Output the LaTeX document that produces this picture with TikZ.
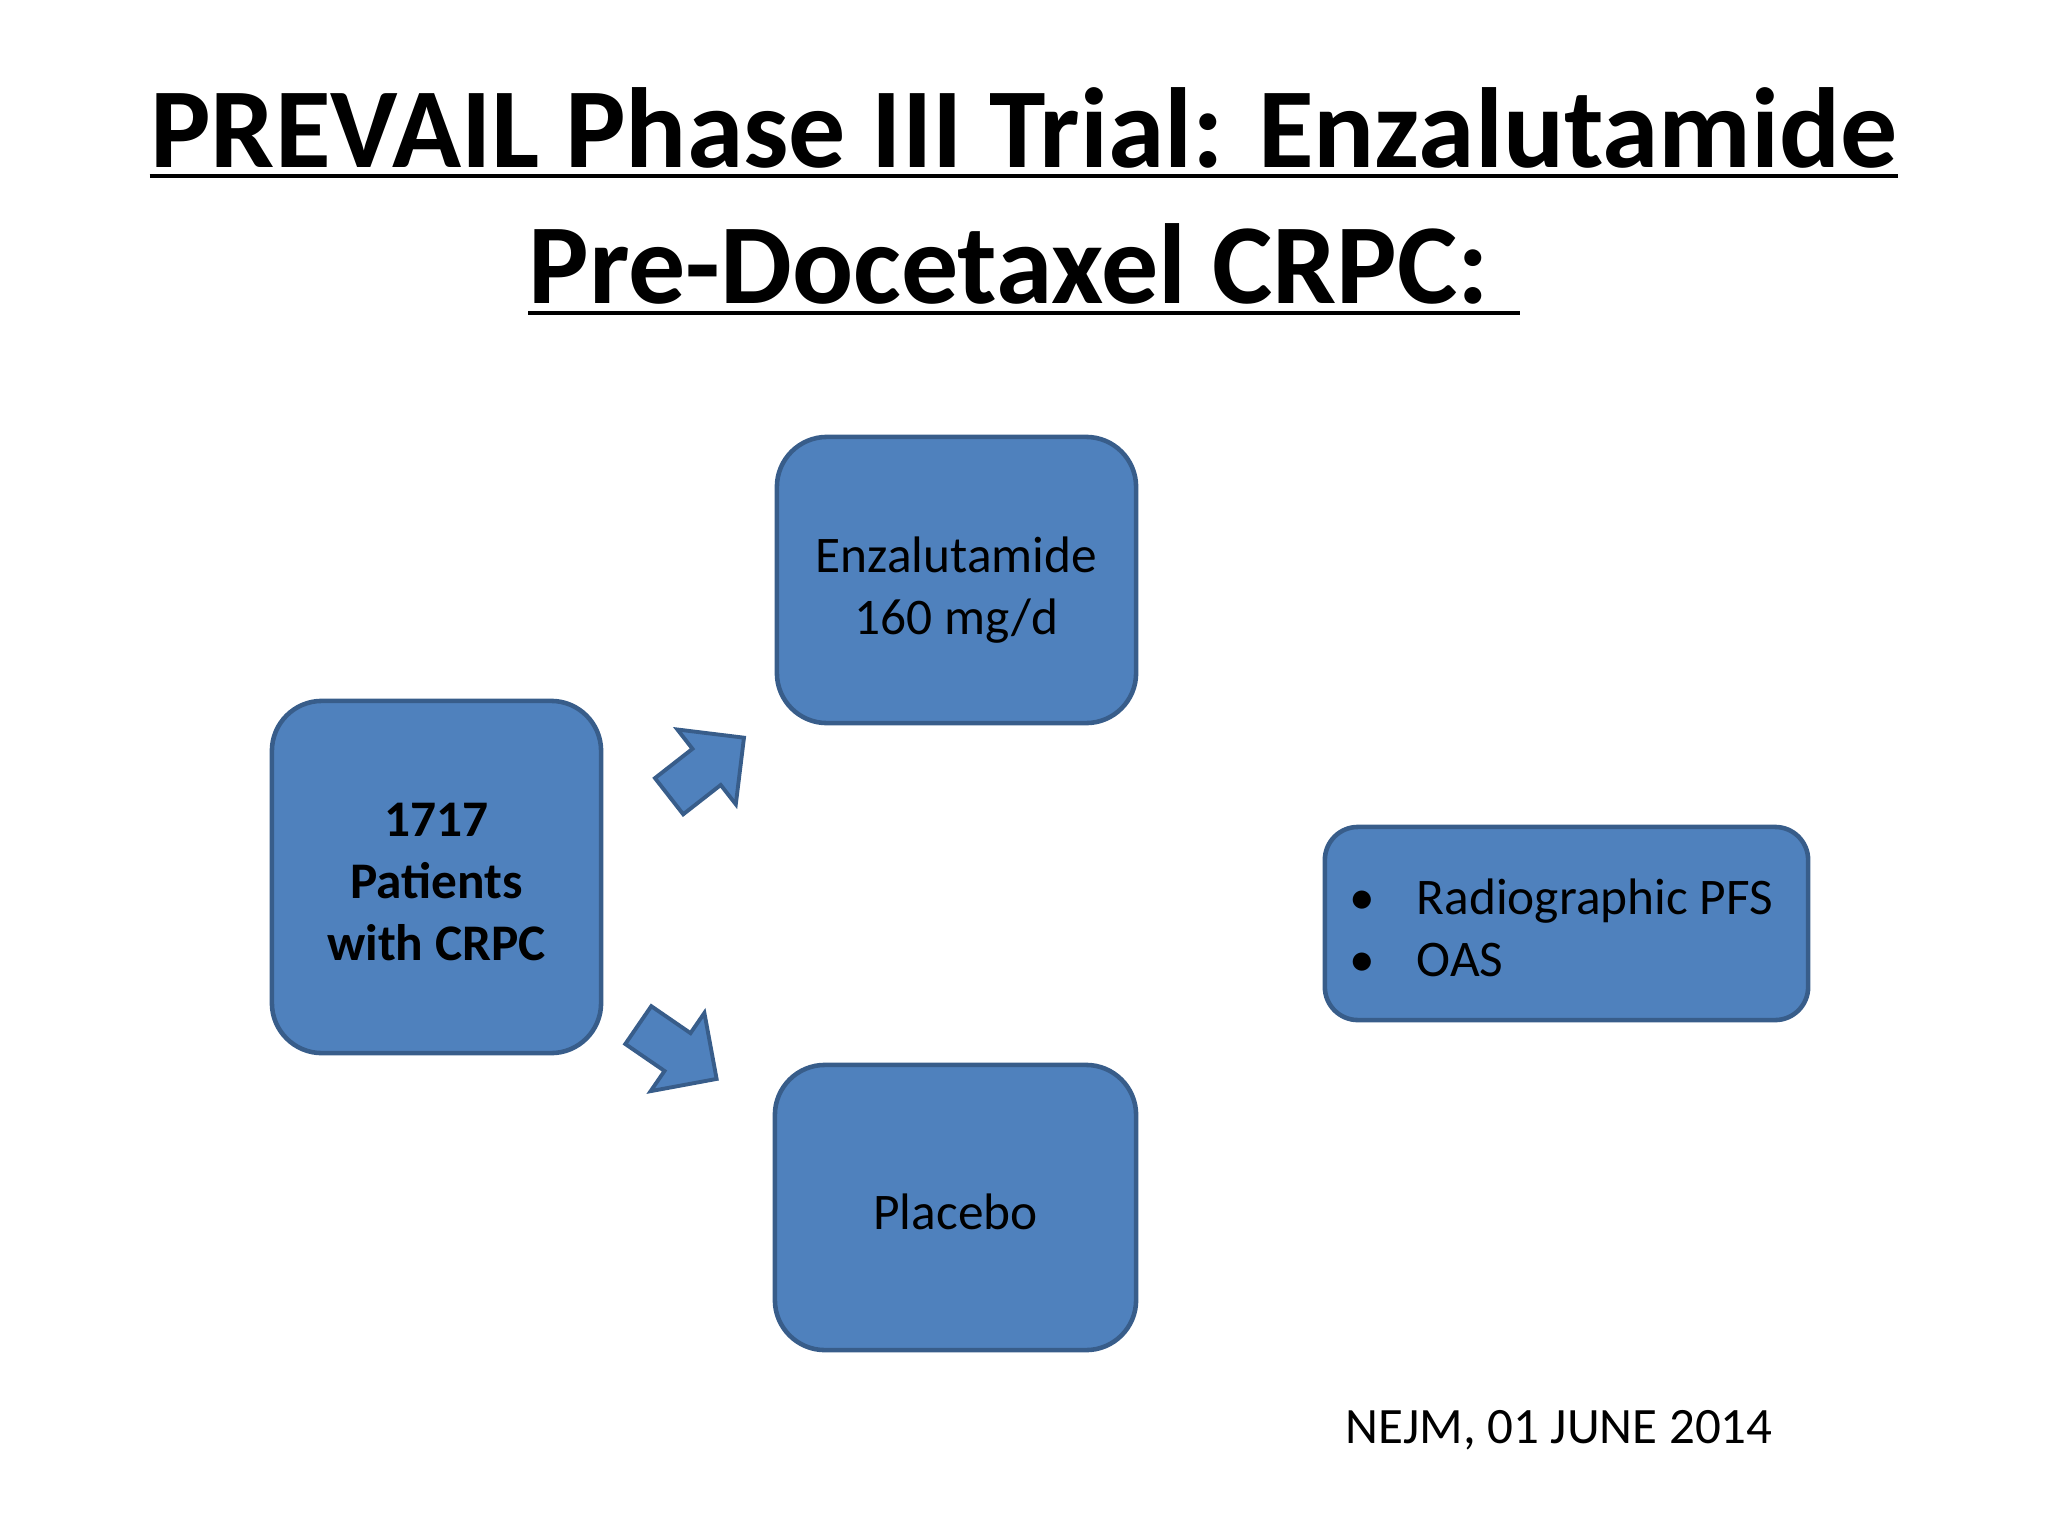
\documentclass[tikz,border=0pt]{standalone}
\usepackage{fontspec}
\setmainfont{Carlito}
\usetikzlibrary{shapes.arrows}
\definecolor{boxblue}{HTML}{4F81BD}
\definecolor{boxline}{HTML}{385D8A}
\tikzset{
  box/.style={draw=boxline, fill=boxblue, line width=1.3pt, rounded corners=#1, inner sep=0pt},
  box/.default=0.5cm,
  boxtext/.style={align=center, inner sep=0pt, font=\fontsize{14.6}{17.5}\selectfont},
  boldtext/.style={boxtext, font=\fontsize{14.6}{17.5}\selectfont\bfseries},
  bigarrow/.style={single arrow, draw=boxline, fill=boxblue, line width=1.1pt,
    minimum height=0.95cm, single arrow head extend=0.245cm,
    inner xsep=0pt, inner ysep=0.21cm},
  titletext/.style={anchor=base, inner sep=0pt, font=\fontsize{32.4}{40}\selectfont\bfseries}
}
\begin{document}
\begin{tikzpicture}[x=0.01cm, y=-0.01cm]
    \useasboundingbox (0,0) rectangle (2048,1536);

      \node[titletext] (t1) at (1024,167) {PREVAIL Phase III Trial: Enzalutamide};
      \node[titletext] (t2) at (1024,303) {Pre-Docetaxel CRPC:\kern8.5pt};
      \draw[line width=1.4pt] ([yshift=-0.09cm]t1.base west) -- ([yshift=-0.09cm]t1.base east);
      \draw[line width=1.4pt] ([yshift=-0.1cm]t2.base west) -- ([yshift=-0.1cm]t2.base east);

      \node[box, minimum width=3.29cm, minimum height=3.52cm] (pts) at (436.5,877) {};
      \node[boldtext] (ptstxt) at ([yshift=-0.05cm]pts.center) {1717\\Patients\\with CRPC};

      \node[box, minimum width=3.59cm, minimum height=2.86cm] (enz) at (956.5,580) {};
      \node[boxtext] (enztxt) at ([yshift=-0.1cm]enz.center) {Enzalutamide\\160 mg/d};

      \node[box, minimum width=3.61cm, minimum height=2.85cm] (pla) at (955.5,1207.5) {};
      \node[boxtext] (platxt) at ([yshift=-0.04cm]pla.center) {Placebo};

      \node[box=0.33cm, minimum width=4.83cm, minimum height=1.93cm] (out) at (1566.5,923.5) {};
      \node[boxtext, align=left, anchor=west] (outtxt) at (1349,928)
        {\makebox[0.67cm][l]{\textbullet}Radiographic PFS\\\makebox[0.67cm][l]{\textbullet}OAS};

      \node[bigarrow, rotate=38] (up) at (697.5,774) {};
      \node[bigarrow, rotate=-34.5] (down) at (668,1045.5) {};

      \node[anchor=base west, inner sep=0pt, font=\fontsize{14.5}{17}\selectfont] (src) at (1345,1443) {NEJM, 01 JUNE 2014};
  \end{tikzpicture}
\end{document}
